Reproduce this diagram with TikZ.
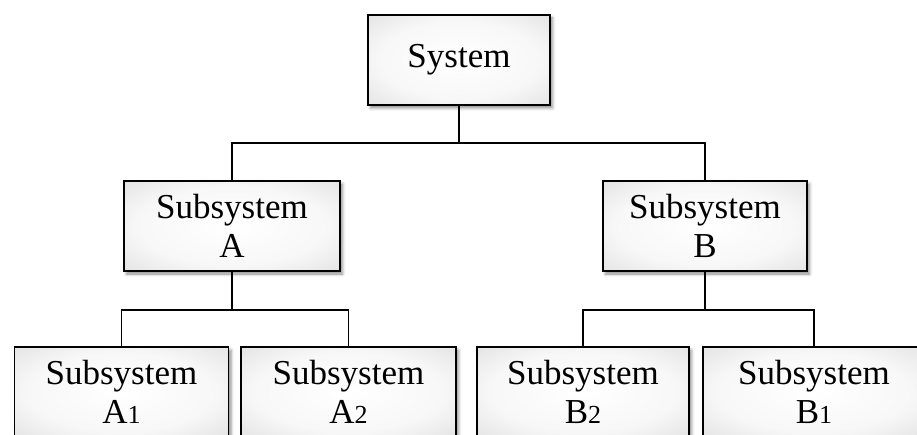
\documentclass[tikz,border=0pt]{standalone}
\usepackage{fontspec}
\setmainfont{Liberation Serif}
\usetikzlibrary{shadows.blur}
\pgfdeclareradialshading{boxshade}{\pgfpoint{0bp}{0bp}}{color(0bp)=(white); color(22bp)=(white!97!black); color(38bp)=(white!88!black); color(50bp)=(white!80!black)}
\newcommand{\osn}[1]{{\fontsize{26}{39}\selectfont #1}}
\begin{document}
\begin{tikzpicture}[x=1pt,y=-1pt,
  box/.style={draw=black, line width=1.6pt, rectangle, inner sep=0pt,
    minimum height=90pt, align=center,
    shading=boxshade,
    blur shadow={shadow xshift=2.5pt, shadow yshift=-3pt, shadow blur radius=3pt, shadow opacity=45},
    font=\fontsize{35}{39}\selectfont},
  link/.style={draw=black, line width=1.6pt}]
\useasboundingbox (0,0) rectangle (917,435);
\node[box, minimum width=182pt] (sys) at (459,60) {System};
\node[box, minimum width=216pt] (a) at (232,226) {Subsystem\\A};
\node[box, minimum width=204pt] (b) at (705,226) {Subsystem\\B};
\node[box, minimum width=214pt] (a1) at (121.5,392) {Subsystem\\A\osn{1}};
\node[box, minimum width=215pt] (a2) at (348.5,392) {Subsystem\\A\osn{2}};
\node[box, minimum width=212pt] (b2) at (583,392) {Subsystem\\B\osn{2}};
\node[box, minimum width=222pt] (b1) at (814,392) {Subsystem\\B\osn{1}};
\coordinate (j0) at (459,143);
\coordinate (ja) at (232,310);
\coordinate (jb) at (705,310);
\draw[link] (sys.south) -- (j0);
\draw[link] (a.north) |- (j0) -| (b.north);
\draw[link] (a.south) -- (ja);
\draw[link] (a1.north) |- (ja) -| (a2.north);
\draw[link] (b.south) -- (jb);
\draw[link] (b2.north) |- (jb) -| (b1.north);
\end{tikzpicture}
\end{document}
